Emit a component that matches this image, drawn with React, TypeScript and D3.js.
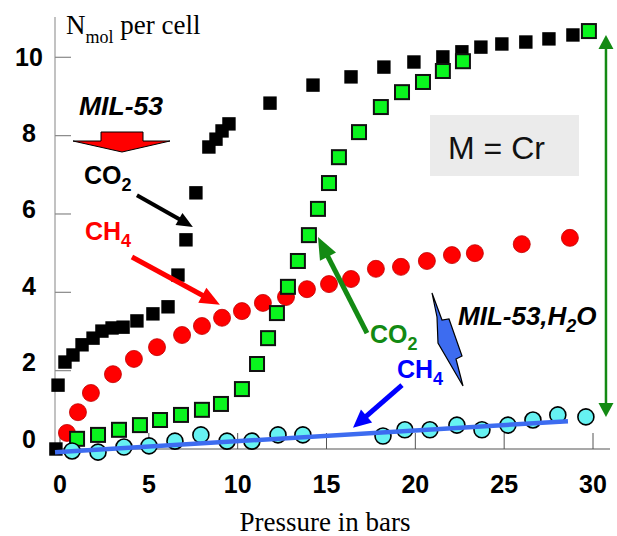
import React, { useEffect } from "react";
import * as d3 from "d3";

// ---- data (pressure in bars, N_mol per cell) ----
const co2DryP = [-0.23, -0.11, 0.28, 0.73, 1.24, 1.86, 2.36, 2.93, 3.55, 4.33, 5.23, 6.08, 6.64, 7.09, 7.65, 8.38, 8.78, 9.12, 9.51, 11.82, 14.24, 16.38, 18.23, 19.92, 21.55, 22.62, 23.69, 24.87, 26.22, 27.52, 28.87];
const co2DryN = [0.0, 1.63, 2.22, 2.40, 2.66, 2.83, 3.01, 3.09, 3.11, 3.27, 3.45, 3.63, 4.44, 5.34, 6.54, 7.71, 7.91, 8.12, 8.30, 8.83, 9.29, 9.50, 9.75, 9.88, 10.01, 10.14, 10.26, 10.34, 10.39, 10.47, 10.57];

const ch4DryP = [0.39, 1.01, 1.74, 2.98, 4.16, 5.46, 6.87, 7.99, 9.12, 10.24, 11.42, 12.72, 13.9, 15.14, 16.38, 17.78, 19.19, 20.65, 22.06, 23.35, 25.99, 28.7];
const ch4DryN = [0.41, 0.94, 1.43, 1.91, 2.30, 2.60, 2.91, 3.14, 3.35, 3.52, 3.73, 3.88, 4.08, 4.21, 4.34, 4.60, 4.65, 4.80, 4.95, 5.00, 5.23, 5.39];

const co2WetP = [0.96, 2.14, 3.32, 4.5, 5.63, 6.81, 7.99, 9.06, 10.24, 11.09, 11.71, 12.21, 12.83, 13.39, 14.01, 14.52, 15.14, 15.7, 16.83, 18.06, 19.25, 20.43, 21.55, 22.68, 29.77];
const co2WetN = [0.26, 0.36, 0.49, 0.61, 0.74, 0.87, 1.0, 1.15, 1.53, 2.17, 2.83, 3.47, 4.14, 4.80, 5.46, 6.13, 6.79, 7.45, 8.09, 8.73, 9.11, 9.37, 9.65, 9.90, 10.67];

const ch4WetP = [0.68, 2.14, 3.6, 5.01, 6.47, 7.93, 9.4, 10.8, 12.27, 13.67, 18.18, 19.41, 20.82, 22.34, 23.75, 25.21, 26.62, 28.02, 29.6];
const ch4WetN = [-0.05, -0.08, 0.05, 0.08, 0.20, 0.36, 0.20, 0.20, 0.36, 0.36, 0.33, 0.49, 0.49, 0.61, 0.49, 0.61, 0.74, 0.87, 0.82];

const fitP = [-0.28, 28.59];
const fitN = [-0.08, 0.71];

const xTicks = [0, 5, 10, 15, 20, 25, 30];
const yTicks = [0, 2, 4, 6, 8, 10];

// annotation arrows in data units: [p1, n1, p2, n2]
const arrowCO2Dry = [4.33, 6.48, 7.48, 5.67];
const arrowCH4Dry = [4.05, 4.9, 9.0, 3.68];
const arrowCO2Wet = [17.28, 2.96, 14.52, 5.41];
const arrowCH4Wet = [19.25, 1.63, 16.49, 0.54];
const rangeArrow = [30.73, 10.57, 30.73, 0.82];

const W = 617;
const H = 536;

const x = d3.scaleLinear().domain([0, 30]).range([60, 593]);
const y = d3.scaleLinear().domain([0, 10]).range([449, 57.3]);
const yLabel = d3.scaleLinear().domain([0, 10]).range([438.5, 56.7]);

const SANS = "'Liberation Sans', Arial, Helvetica, sans-serif";
const SERIF = "'Liberation Serif', 'Times New Roman', serif";

function Arrow({ a, color, w, hl, hw, both = false }: { a: number[]; color: string; w: number; hl: number; hw: number; both?: boolean }) {
  const x1 = x(a[0]), y1 = y(a[1]), x2 = x(a[2]), y2 = y(a[3]);
  const dx = x2 - x1, dy = y2 - y1;
  const L = Math.hypot(dx, dy);
  const ux = dx / L, uy = dy / L;
  const px = -uy, py = ux;
  const head = (tx: number, ty: number, sx: number, sy: number) => {
    const bx = tx - sx * hl, by = ty - sy * hl;
    return `${tx},${ty} ${bx + px * hw / 2},${by + py * hw / 2} ${bx - px * hw / 2},${by - py * hw / 2}`;
  };
  const sx1 = both ? x1 + ux * (hl - 1) : x1;
  const sy1 = both ? y1 + uy * (hl - 1) : y1;
  return (
    <g>
      <line x1={sx1} y1={sy1} x2={x2 - ux * (hl - 1)} y2={y2 - uy * (hl - 1)} stroke={color} strokeWidth={w} />
      <polygon points={head(x2, y2, ux, uy)} fill={color} />
      {both && <polygon points={head(x1, y1, -ux, -uy)} fill={color} />}
    </g>
  );
}

export default function App() {
  useEffect(() => {
    document.body.style.margin = "0";
  }, []);

  const fitLine = d3.line<number>().x((d, i) => x(fitP[i])).y((d, i) => y(fitN[i]))(fitP) || "";

  return (
    <svg width={W} height={H} viewBox={`0 0 ${W} ${H}`} style={{ display: "block", position: "absolute", left: 0, top: 0, background: "#fff" }}>
      {/* axes */}
      <line x1={55} y1={17} x2={55} y2={449} stroke="#999" strokeWidth={1.2} />
      {yTicks.filter((t) => t > 0).map((t) => (
        <line key={"yt" + t} x1={55} x2={71} y1={y(t)} y2={y(t)} stroke="#888" strokeWidth={1.2} />
      ))}
      <line x1={55} y1={449} x2={610} y2={449} stroke="#555" strokeWidth={1.2} />
      {xTicks.map((t) => (
        <line key={"xt" + t} x1={x(t)} x2={x(t)} y1={449} y2={433} stroke="#555" strokeWidth={1} />
      ))}
      {yTicks.map((t) => (
        <text key={"yl" + t} x={29} y={yLabel(t)} dy="0.36em" textAnchor="middle" fontFamily={SANS} fontWeight="bold" fontSize={25} fill="#000">{t}</text>
      ))}
      {xTicks.map((t) => (
        <text key={"xl" + t} x={x(t)} y={493} textAnchor="middle" fontFamily={SANS} fontWeight="bold" fontSize={25} fill="#000">{t}</text>
      ))}
      <text x={66} y={34} fontFamily={SERIF} fontSize={27} fill="#000">
        N<tspan fontSize={18} dy={9}>mol</tspan><tspan dy={-9}> per cell</tspan>
      </text>
      <text x={325} y={531} textAnchor="middle" fontFamily={SERIF} fontSize={27} fill="#000">Pressure in bars</text>

      {/* M = Cr box */}
      <rect x={430} y={115} width={149} height={61} fill="#ebebeb" />
      <text x={448} y={159} fontFamily={SANS} fontSize={32} fill="#111">M = Cr</text>

      {/* data */}
      {ch4DryP.map((p, i) => (
        <circle key={"r" + i} cx={x(p)} cy={y(ch4DryN[i])} r={8.5} fill="#ff0000" stroke="#c00000" strokeWidth={0.8} />
      ))}
      {co2DryP.map((p, i) => (
        <rect key={"k" + i} x={x(p) - 6.7} y={y(co2DryN[i]) - 6.7} width={13.4} height={13.4} fill="#000" />
      ))}
      {co2WetP.map((p, i) => (
        <rect key={"g" + i} x={x(p) - 7} y={y(co2WetN[i]) - 7} width={14} height={14} fill="#0af51e" stroke="#111" strokeWidth={2} />
      ))}
      {ch4WetP.map((p, i) => (
        <circle key={"c" + i} cx={x(p)} cy={y(ch4WetN[i])} r={8} fill="#66f2f2" stroke="#000" strokeWidth={1.6} />
      ))}
      <path d={fitLine} stroke="#3d6cf0" strokeWidth={4.5} fill="none" />

      {/* annotations */}
      <text x={79} y={115} fontFamily={SANS} fontWeight="bold" fontStyle="italic" fontSize={26} fill="#000" textLength={84} lengthAdjust="spacingAndGlyphs">MIL-53</text>
      <polygon points="101,132 143,132 143,141 170,141 122,152 73,141 101,141" fill="#ff0000" stroke="#000" strokeWidth={1} />
      <text x={84} y={184} fontFamily={SANS} fontWeight="bold" fontSize={25} fill="#000">
        CO<tspan fontSize={18} dy={7}>2</tspan>
      </text>
      <Arrow a={arrowCO2Dry} color="#000" w={4} hl={16} hw={14} />
      <text x={85} y={240} fontFamily={SANS} fontWeight="bold" fontSize={25} fill="#ff0000">
        CH<tspan fontSize={18} dy={7}>4</tspan>
      </text>
      <Arrow a={arrowCH4Dry} color="#ff0000" w={5} hl={20} hw={17} />

      <Arrow a={arrowCO2Wet} color="#138a13" w={5} hl={22} hw={18} />
      <text x={370} y={343} fontFamily={SANS} fontWeight="bold" fontSize={25} fill="#138a13">
        CO<tspan fontSize={18} dy={7}>2</tspan>
      </text>
      <text x={397} y={378} fontFamily={SANS} fontWeight="bold" fontSize={25} fill="#0000ff">
        CH<tspan fontSize={18} dy={7}>4</tspan>
      </text>
      <Arrow a={arrowCH4Wet} color="#0000ff" w={5} hl={18} hw={17} />

      <polygon points="432,293 442,320 449,319 462,356 456,359 463,386 438,343 437,317" fill="#3d6cf0" stroke="#000" strokeWidth={1.2} />
      <text x={458} y={325} fontFamily={SANS} fontWeight="bold" fontStyle="italic" fontSize={26} fill="#000">
        MIL-53,H<tspan fontSize={18} dy={7}>2</tspan><tspan dy={-7}>O</tspan>
      </text>

      <Arrow a={rangeArrow} color="#138a13" w={2.5} hl={14} hw={15} both />
    </svg>
  );
}
